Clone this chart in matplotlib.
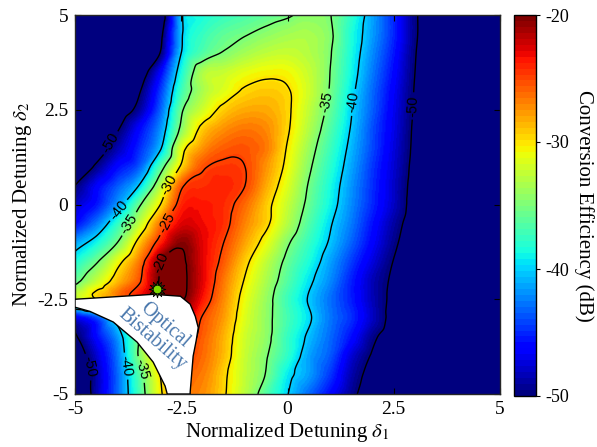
import numpy as np
import matplotlib
matplotlib.use("Agg")
import matplotlib.pyplot as plt
import matplotlib.tri as mtri

plt.rcParams["font.family"] = ["Liberation Serif", "DejaVu Serif"]
plt.rcParams["mathtext.fontset"] = "stix"
plt.rcParams["axes.unicode_minus"] = False

# sample positions of the map (normalized detunings)
delta1 = np.linspace(-5, 5, 21)
delta2 = np.linspace(5, -5, 21)   # rows below go from delta2 = 5 (top) to -5 (bottom)

# conversion efficiency (dB), one row per delta2
eff_rows = [
    [-62, -60.5, -58.5, -56, -52.5, -40.4, -38.5, -37.5, -36.8, -36, -35.3, -34.4, -34.9, -37.8, -41.3, -45, -49.5, -53, -55.5, -57, -58],
    [-61, -59.5, -57.5, -55, -51, -40.4, -37.5, -36, -35.2, -34.3, -33.6, -33.4, -34.6, -38.3, -41.5, -45, -49.5, -53, -55.5, -57, -58],
    [-60, -58, -56, -53.5, -50, -40, -36.5, -34.8, -33.5, -32.6, -32.3, -33, -34.8, -38.5, -42, -45.5, -49.8, -53, -55.5, -57, -58],
    [-59, -57, -54.5, -52, -46.4, -38.5, -33.2, -32.3, -31.2, -30.6, -30.7, -32.3, -35, -38.8, -42.5, -46, -50, -53, -55.5, -57, -58],
    [-58, -55.5, -53, -50.4, -44.5, -37.2, -33.3, -31.4, -29.7, -29.2, -29.8, -32, -35.2, -39.3, -43, -46.5, -50.2, -53, -55.5, -57, -58],
    [-57, -54.5, -52, -49, -43.3, -35.5, -31.9, -29.3, -28.2, -28.2, -29.6, -32.5, -35.8, -39.8, -43.3, -46.8, -50.3, -53, -55.5, -57, -58],
    [-55.5, -53, -50.3, -46.2, -41.9, -34.4, -29.3, -27.4, -26.6, -27.2, -29.7, -33, -36.5, -40.2, -43.8, -47, -50.5, -53, -55.5, -57, -58],
    [-54.5, -52, -48.5, -45, -40.5, -31.3, -27.5, -25.8, -25.5, -26.7, -30.2, -33.8, -37.2, -40.7, -44, -47.3, -50.6, -53, -55.5, -57, -58],
    [-53.5, -49.5, -46, -43.5, -36.5, -29.6, -25.4, -24.6, -25, -27.5, -30.7, -34.5, -37.9, -41.2, -44.5, -47.6, -50.8, -53, -55.5, -57, -58],
    [-50, -46.5, -43.5, -40, -33, -25.5, -24.3, -24, -25, -28.2, -31.5, -35.2, -38.5, -41.7, -44.8, -47.9, -51, -53, -55.5, -57, -58],
    [-48, -45.5, -41.5, -35.6, -30.1, -24, -23.6, -24.2, -26.2, -29.2, -32.3, -35.7, -38.9, -42, -45, -48, -51.2, -53.5, -55.5, -57, -58],
    [-46, -42.5, -37.7, -32.6, -26.5, -22.7, -23.2, -24.3, -27, -29.5, -33, -36.5, -39.7, -42.5, -45.7, -48.8, -51.5, -53.5, -55.5, -57, -58],
    [-41.5, -38.8, -35, -29.2, -24, -20.4, -22.8, -25, -28, -31, -34.6, -37.5, -40.3, -43.2, -46.3, -49.4, -52, -54, -55.5, -57, -58],
    [-38.5, -35.4, -31, -26.7, -20.3, -19.6, -22.7, -25.7, -29.3, -32.5, -35.7, -38.4, -41.3, -44.3, -47.3, -50.1, -52.5, -54, -55.5, -57, -58],
    [-36, -32.5, -28.8, -25.5, -19.8, -19.4, -22.7, -26.6, -30.2, -33.3, -36.4, -39.4, -42, -45.2, -48.3, -50.5, -52.5, -54, -55.5, -57, -58],
    [-33, -30, -27, -24, -20, -19.7, -23.5, -27.2, -31, -34, -37.3, -40.2, -42.8, -45.3, -48.3, -50.7, -52.5, -54, -55.5, -57, -58],
    [-47, -44, -38, -32, -26, -22, -25.2, -27.8, -31.5, -34.2, -37, -39.6, -42.6, -44.8, -48, -51, -52.8, -54, -55.5, -57, -58],
    [-50.5, -46, -41.5, -34.8, -27, -23.5, -25.8, -28.5, -32, -34.3, -37.5, -40.5, -43, -45.8, -49.4, -51.5, -53, -54.2, -55.5, -57, -58],
    [-52.5, -47.7, -42.5, -34.8, -29, -25, -26.2, -28.8, -32.3, -34.8, -37.8, -41.3, -43.5, -47.5, -50.3, -52, -53.5, -54.5, -55.5, -57, -58],
    [-54, -48.5, -43, -36.5, -30, -26.5, -26.8, -29.5, -32.5, -35.2, -39.2, -41.5, -44.5, -48.5, -51, -52.5, -53.5, -54.5, -55.5, -57, -58],
    [-55, -48.5, -43, -37, -30.5, -27, -27.3, -29.7, -32.8, -36.5, -39.9, -43, -46, -49.2, -51.6, -53, -54, -55, -56, -57, -58],
]

# outline of the optical bistability region
bist_x = [-5, -4.0, -3.16, -2.52, -2.29, -2.17, -2.1, -2.15, -2.22, -2.29, -2.29,
          -2.83, -2.88, -3.16, -3.54, -4.1, -4.65, -5]
bist_y = [-2.5, -2.43, -2.37, -2.42, -2.63, -2.95, -3.25, -3.6, -4.0, -4.95, -5,
          -5, -4.79, -4.16, -3.63, -3.1, -2.82, -2.71]

# operating point
opt_d1, opt_d2 = -3.07, -2.24

levels = [-50, -40, -35, -30, -25, -20]
label_pos = [(-4.17, 1.63), (-4.0, -0.12), (-3.7, -0.53), (-2.7, 0.47), (-2.88, -0.47),
             (-3.0, -1.53), (0.92, 2.7), (1.52, 2.7), (2.95, 2.6),
             (-4.69, -4.29), (-3.77, -4.26), (-3.4, -4.34)]

xticks = [-5, -2.5, 0, 2.5, 5]
xticklabels = ["-5", "-2.5", "0", "2.5", "5"]
cbticks = [-50, -40, -30, -20]
cbticklabels = ["-50", "-40", "-30", "-20"]

# smooth the sampled map with matplotlib's cubic triangle interpolator
X, Y = np.meshgrid(delta1, delta2)
Z = np.array(eff_rows)
tri = mtri.Triangulation(X.ravel(), Y.ravel())
interp = mtri.CubicTriInterpolator(tri, Z.ravel(), kind="geom")
xi = np.linspace(-5, 5, 401)
yi = np.linspace(-5, 5, 401)
XI, YI = np.meshgrid(xi, yi)
ZI = interp(XI, YI)

fig = plt.figure(figsize=(5.97, 4.47), dpi=100)
ax = fig.add_axes([75 / 597, 1 - 394 / 447, 425 / 597, 379 / 447])

cmap = plt.get_cmap("jet", 64)
im = ax.imshow(ZI, origin="lower", extent=(-5, 5, -5, 5), cmap=cmap, vmin=-50, vmax=-20,
               aspect="auto", interpolation="bilinear")
cs = ax.contour(XI, YI, ZI, levels=levels, colors="k", linewidths=1.0, linestyles="solid")
labels = ax.clabel(cs, manual=label_pos, fmt="%d", fontsize=10.5, inline=True, inline_spacing=4)
for t in labels:
    t.set_fontfamily("Liberation Sans")

ax.fill(bist_x, bist_y, facecolor="white", edgecolor="k", linewidth=1.0, zorder=3)
ax.text(-3.04, -3.37, "Optical\nBistability", rotation=-41, rotation_mode="anchor",
        ha="center", va="center", multialignment="center", color="#4a78ad",
        fontsize=14.5, linespacing=1.05, zorder=6)

ax.scatter([opt_d1], [opt_d2], marker=(12, 1, 0), s=140, c="#a6e22e", edgecolors="k",
           linewidths=0.7, zorder=7)
ax.scatter([opt_d1], [opt_d2], marker="o", s=40, c="#7fdc00", edgecolors="k",
           linewidths=0.7, zorder=8)

ax.set_xlim(-5, 5)
ax.set_ylim(-5, 5)
ax.set_xticks(xticks)
ax.set_xticklabels(xticklabels)
ax.set_yticks(xticks)
ax.set_yticklabels(xticklabels)
ax.tick_params(direction="in", top=True, right=True, length=4, labelsize=14, pad=5)
for s in ax.spines.values():
    s.set_color("#262626")
    s.set_linewidth(1.0)
ax.set_xlabel("Normalized Detuning $\\delta_1$", fontsize=15, labelpad=2)
ax.set_ylabel("Normalized Detuning $\\delta_2$", fontsize=15, labelpad=2)

cax = fig.add_axes([514 / 597, 1 - 396 / 447, 22 / 597, 381 / 447])
cb = fig.colorbar(im, cax=cax, ticks=cbticks)
cb.ax.set_yticklabels(cbticklabels)
cb.ax.tick_params(labelsize=13, length=3, direction="out")
cb.outline.set_linewidth(1.0)
cb.set_label("Conversion Efficiency (dB)", rotation=-90, fontsize=15, labelpad=18)

fig.savefig("out.png", dpi=100)
